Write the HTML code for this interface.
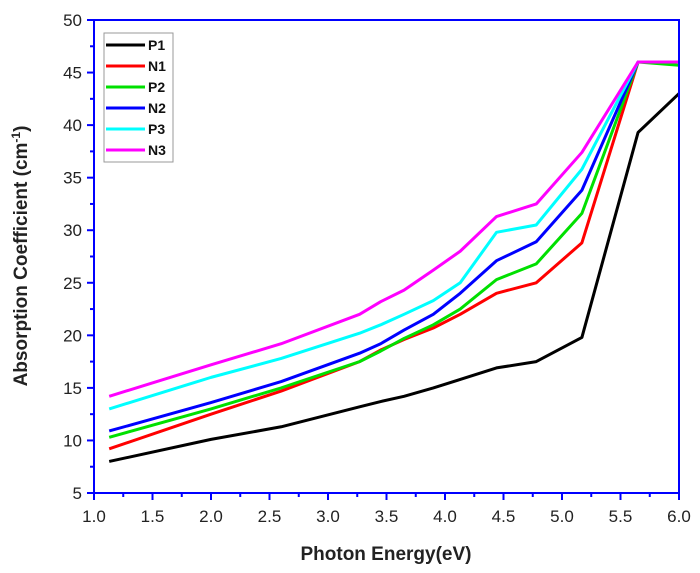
<!DOCTYPE html>
<html><head><meta charset="utf-8"><style>
html,body{margin:0;padding:0;background:#fff}
svg{display:block;font-family:"Liberation Sans",Arial,sans-serif}
</style></head><body>
<svg id="chart" width="700" height="573" viewBox="0 0 700 573"></svg>
<script>
const xValues = [1.13, 2.0, 2.6, 3.27, 3.45, 3.65, 3.9, 4.13, 4.44, 4.78, 5.17, 5.65, 6.0];
const seriesNames = ["P1", "N1", "P2", "N2", "P3", "N3"];
const seriesColors = ["#000000", "#ff0000", "#00e000", "#0000ff", "#00ffff", "#ff00ff"];
const P1 = [8.0, 10.1, 11.3, 13.2, 13.7, 14.2, 15.0, 15.8, 16.9, 17.5, 19.8, 39.3, 43.0];
const N1 = [9.2, 12.5, 14.7, 17.5, 18.6, 19.6, 20.7, 22.0, 24.0, 25.0, 28.8, 46.0, 46.0];
const P2 = [10.3, 13.0, 15.0, 17.5, 18.5, 19.7, 21.0, 22.5, 25.3, 26.8, 31.6, 46.0, 45.7];
const N2 = [10.9, 13.6, 15.6, 18.3, 19.2, 20.5, 22.0, 24.0, 27.1, 28.9, 33.8, 46.0, 46.0];
const P3 = [13.0, 16.0, 17.8, 20.2, 21.0, 22.0, 23.3, 25.0, 29.8, 30.5, 35.8, 46.0, 46.0];
const N3 = [14.2, 17.2, 19.2, 22.0, 23.2, 24.3, 26.2, 28.0, 31.3, 32.5, 37.4, 46.0, 46.0];
const seriesData = [P1, N1, P2, N2, P3, N3];
const xTickLabels = ["1.0","1.5","2.0","2.5","3.0","3.5","4.0","4.5","5.0","5.5","6.0"];
const yTickLabels = ["5","10","15","20","25","30","35","40","45","50"];

const L=94,R=679,T=20,B=493;
const xS=v=>L+(v-1)/5*(R-L);
const yS=v=>B-(v-5)/45*(B-T);
const svg=document.getElementById('chart');
const NS='http://www.w3.org/2000/svg';
function mk(tag,attrs,parent){const e=document.createElementNS(NS,tag);for(const k in attrs)e.setAttribute(k,attrs[k]);(parent||svg).appendChild(e);return e;}

// series
seriesData.forEach((d,i)=>{
  const p=mk('polyline',{points:d.map((v,j)=>xS(xValues[j])+','+yS(v)).join(' '),fill:'none',stroke:seriesColors[i],'stroke-width':3,'stroke-linejoin':'round'});
  
  
});

// frame
const fr=mk('rect',{x:L,y:T,width:R-L,height:B-T,fill:'none',stroke:'#0000ff','stroke-width':2});



// x ticks
xTickLabels.forEach((t,i)=>{
  const v=parseFloat(t),x=xS(v);
  mk('line',{x1:x,y1:B,x2:x,y2:B+7,stroke:'#0000ff','stroke-width':2});
  if(i<xTickLabels.length-1){const xm=xS(v+0.25);mk('line',{x1:xm,y1:B,x2:xm,y2:B+4,stroke:'#0000ff','stroke-width':2});}
  const tx=mk('text',{x:x,y:B+29,'text-anchor':'middle','font-size':17,fill:'#222'});
  tx.textContent=t;
  
  
});
// y ticks
yTickLabels.forEach((t,i)=>{
  const v=parseFloat(t),y=yS(v);
  mk('line',{x1:L,y1:y,x2:L-7,y2:y,stroke:'#0000ff','stroke-width':2});
  if(i<yTickLabels.length-1){const ym=yS(v+2.5);mk('line',{x1:L,y1:ym,x2:L-4,y2:ym,stroke:'#0000ff','stroke-width':2});}
  const tx=mk('text',{x:L-12,y:y+6,'text-anchor':'end','font-size':17,fill:'#222'});
  tx.textContent=t;
  
  
});

// titles
const xt=mk('text',{x:386,y:560,'text-anchor':'middle','font-size':19,'font-weight':'bold',fill:'#222'});
xt.textContent='Photon Energy(eV)';


const yt=mk('text',{x:0,y:0,'text-anchor':'middle','font-size':19,'font-weight':'bold',fill:'#222',transform:'translate(27,256) rotate(-90)'});
yt.innerHTML='Absorption Coefficient (cm<tspan baseline-shift="super" font-size="12">-1</tspan>)';



// legend
const lg=mk('g',{});


mk('rect',{x:104,y:33,width:69,height:129,fill:'#fff',stroke:'#999','stroke-width':1},lg);
seriesNames.forEach((n,i)=>{
  const y=45+i*21;
  const g=mk('g',{},lg);
  
  
  mk('line',{x1:106,y1:y,x2:145,y2:y,stroke:seriesColors[i],'stroke-width':3},g);
  const t=mk('text',{x:148,y:y+5,'font-size':14,'font-weight':'bold',fill:'#111'},g);
  t.textContent=n;
});
</script>
</body></html>
